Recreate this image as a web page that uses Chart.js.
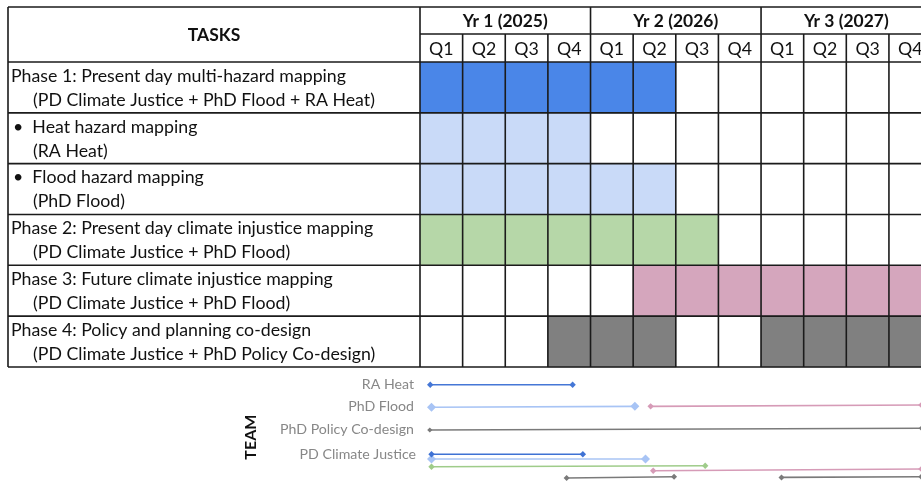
<!DOCTYPE html>
<html>
<head>
<meta charset="utf-8">
<title>Project timeline</title>
<script src="https://cdn.jsdelivr.net/npm/chart.js@4.4.1/dist/chart.umd.min.js"></script>
<style>
  html, body { margin: 0; padding: 0; background: #ffffff; }
  #wrap { width: 921px; height: 484px; }
</style>
</head>
<body>
<div id="wrap"><canvas id="gantt" width="921" height="484"></canvas></div>
<script>
// ---- timeline labels ----
const years = ['Yr 1 (2025)', 'Yr 2 (2026)', 'Yr 3 (2027)'];
const quarters = ['Q1', 'Q2', 'Q3', 'Q4', 'Q1', 'Q2', 'Q3', 'Q4', 'Q1', 'Q2', 'Q3', 'Q4'];

// ---- tasks (title line, team line) ----
const taskTitles = [
  'Phase 1: Present day multi-hazard mapping',
  '\u2022  Heat hazard mapping',
  '\u2022  Flood hazard mapping',
  'Phase 2: Present day climate injustice mapping',
  'Phase 3: Future climate injustice mapping',
  'Phase 4: Policy and planning co-design'
];
const taskTeams = [
  '(PD Climate Justice + PhD Flood + RA Heat)',
  '(RA Heat)',
  '(PhD Flood)',
  '(PD Climate Justice + PhD Flood)',
  '(PD Climate Justice + PhD Flood)',
  '(PD Climate Justice + PhD Policy Co-design)'
];

// ---- scheduled spans, in quarters from Q1 2025 ----
const spanTask  = [0, 1, 2, 3, 4, 5, 5];
const spanStart = [0, 0, 0, 0, 5, 3, 8];
const spanEnd   = [6, 4, 6, 7, 12, 6, 12];
const taskColors = ['#4a86e8', '#c9daf8', '#c9daf8', '#b6d7a8', '#d5a6bd', '#808080'];

// ---- team staffing lines: x in quarters, y in row units ----
const teamNames  = ['RA Heat', 'PhD Flood', 'PhD Policy Co-design', 'PD Climate Justice'];
const teamNameY  = [6.35, 6.77, 7.23, 7.72];
const staffX0 = [0.24, 0.27, 5.41, 0.23, 0.27, 0.27, 0.27, 5.47, 3.44, 8.48];
const staffX1 = [3.58, 5.04, 11.76, 11.76, 3.82, 5.29, 6.69, 11.76, 5.96, 11.76];
const staffY0 = [6.349, 6.793, 6.774, 7.240, 7.718, 7.810, 7.962, 8.040, 8.184, 8.172];
const staffY1 = [6.349, 6.774, 6.748, 7.206, 7.718, 7.810, 7.942, 8.007, 8.159, 8.159];
const staffColor = ['#4577d6', '#a8c4f5', '#d69bb7', '#7a7a7a', '#3f72d4', '#a8c4f5', '#9fcc8a', '#d69bb7', '#7a7a7a', '#7a7a7a'];
const staffMarker = [3.2, 4.5, 3.2, 2.6, 3.2, 4.5, 3.2, 3.2, 3, 3];

const FAMILY = 'Lato, "Open Sans", sans-serif';

function fitSize(ctx, text, weight, target) {
  ctx.font = weight + ' 100px ' + FAMILY;
  return 100 * target / ctx.measureText(text).width;
}

const barData = spanTask.map((t, i) => ({ y: t + 0.5, x: [spanStart[i], spanEnd[i]] }));
const barColors = spanTask.map(t => taskColors[t]);

const staffSets = staffX0.map((x0, i) => ({
  type: 'line',
  data: [{ x: x0, y: staffY0[i] }, { x: staffX1[i], y: staffY1[i] }],
  borderColor: staffColor[i],
  backgroundColor: staffColor[i],
  borderWidth: 1.6,
  pointStyle: 'rectRot',
  pointRadius: staffMarker[i],
  pointBorderWidth: 0,
  tension: 0,
  clip: 6
}));

// Table frame, header texts, task texts and team labels
const tablePlugin = {
  id: 'tableFrame',
  afterDatasetsDraw(chart) {
    const { ctx, chartArea: a, scales: { x, y } } = chart;
    const left = 8, top = 7, yearBottom = 34;
    const bottom = y.getPixelForValue(taskTitles.length);
    const headBottom = y.getPixelForValue(0);
    ctx.save();
    ctx.strokeStyle = '#1b1b1b';
    ctx.lineWidth = 1.6;
    ctx.beginPath();
    // horizontal lines
    ctx.moveTo(left, top); ctx.lineTo(a.right, top);
    ctx.moveTo(a.left, yearBottom); ctx.lineTo(a.right, yearBottom);
    for (let r = 0; r <= taskTitles.length; r++) {
      const py = y.getPixelForValue(r);
      ctx.moveTo(left, py); ctx.lineTo(a.right, py);
    }
    // vertical lines
    ctx.moveTo(left, top); ctx.lineTo(left, bottom);
    for (let q = 0; q <= quarters.length; q++) {
      const px = x.getPixelForValue(q);
      ctx.moveTo(px, q % 4 === 0 ? top : yearBottom);
      ctx.lineTo(px, bottom);
    }
    ctx.stroke();

    const body = fitSize(ctx, taskTitles[0], 'normal', 335);
    const bold = fitSize(ctx, years[0], 'bold', 85);
    ctx.fillStyle = '#111';
    ctx.textBaseline = 'middle';

    // header
    ctx.textAlign = 'center';
    ctx.font = 'bold ' + bold.toFixed(2) + 'px ' + FAMILY;
    ctx.fillText('TASKS', (left + a.left) / 2, (top + headBottom) / 2 + 1);
    years.forEach((t, i) => {
      const cx = (x.getPixelForValue(i * 4) + x.getPixelForValue(i * 4 + 4)) / 2;
      ctx.fillText(t, cx, (top + yearBottom) / 2 + 1);
    });
    ctx.font = body.toFixed(2) + 'px ' + FAMILY;
    quarters.forEach((t, i) => {
      ctx.fillText(t, x.getPixelForValue(i + 0.5), (yearBottom + headBottom) / 2 + 1);
    });

    // task rows
    ctx.textAlign = 'left';
    taskTitles.forEach((t, r) => {
      const rt = y.getPixelForValue(r);
      ctx.fillText(t, t.startsWith('\u2022') ? 13 : 11, rt + 14);
      ctx.fillText(taskTeams[r], 33, rt + 38);
    });

    // team labels
    const small = fitSize(ctx, teamNames[2], 'normal', 134);
    ctx.font = small.toFixed(2) + 'px ' + FAMILY;
    ctx.fillStyle = '#878787';
    ctx.textAlign = 'right';
    teamNames.forEach((t, i) => {
      ctx.fillText(t, i === 3 ? 416 : 414, y.getPixelForValue(teamNameY[i]));
    });

    // rotated TEAM heading
    const tb = fitSize(ctx, 'TEAM', 'bold', 45);
    ctx.font = 'bold ' + tb.toFixed(2) + 'px ' + FAMILY;
    ctx.fillStyle = '#111';
    ctx.textAlign = 'center';
    ctx.translate(251, y.getPixelForValue(7.38));
    ctx.rotate(-Math.PI / 2);
    ctx.fillText('TEAM', 0, 0);
    ctx.restore();
  }
};

new Chart(document.getElementById('gantt'), {
  type: 'bar',
  data: {
    datasets: [
      {
        type: 'bar',
        indexAxis: 'y',
        data: barData,
        backgroundColor: barColors,
        borderWidth: 0,
        grouped: false,
        barPercentage: 1,
        categoryPercentage: 1
      },
      ...staffSets
    ]
  },
  options: {
    responsive: false,
    animation: false,
    devicePixelRatio: 1,
    layout: { autoPadding: false, padding: { left: 420, top: 62, right: 0, bottom: 0 } },
    scales: {
      x: { type: 'linear', min: 0, max: 11.752, offset: false, display: false, grid: { offset: false } },
      y: {
        type: 'linear', reverse: true, min: 0, max: 8.302, offset: false, display: false,
        grid: { offset: false }, ticks: { stepSize: 1 },
        // keep one tick per task row so bars fill the whole row
        afterBuildTicks: s => { s.ticks = s.ticks.filter(t => Number.isInteger(t.value)); }
      }
    },
    plugins: { legend: { display: false }, tooltip: { enabled: false } }
  },
  plugins: [tablePlugin]
});
</script>
</body>
</html>
